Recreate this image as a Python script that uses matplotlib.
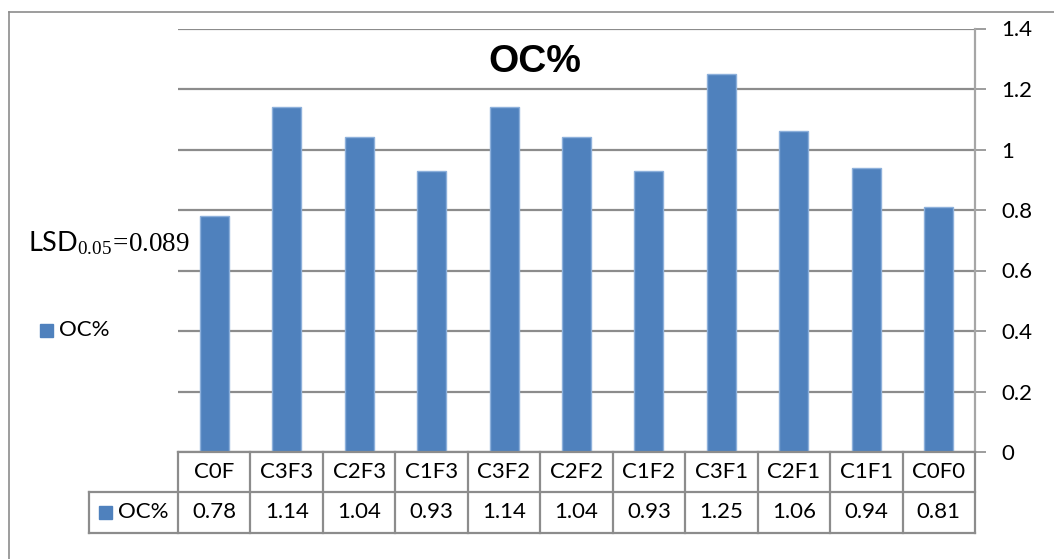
import matplotlib
matplotlib.use("Agg")
import matplotlib.pyplot as plt
from matplotlib.lines import Line2D
from matplotlib.patches import Rectangle

# OC% by treatment
categories = ["C0F", "C3F3", "C2F3", "C1F3", "C3F2", "C2F2", "C1F2", "C3F1", "C2F1", "C1F1", "C0F0"]
oc_values = [0.78, 1.14, 1.04, 0.93, 1.14, 1.04, 0.93, 1.25, 1.06, 0.94, 0.81]
y_ticks = [0, 0.2, 0.4, 0.6, 0.8, 1, 1.2, 1.4]
y_tick_labels = ["0", "0.2", "0.4", "0.6", "0.8", "1", "1.2", "1.4"]
series_name = "OC%"
lsd_note = r"LSD$_{0.05}\!=\!0.089$"

bar_color = "#4F81BD"
edge_color = "#8DB0DB"
grid_color = "#8C8C8C"
label_font = "Lato"

plt.rcParams["mathtext.fontset"] = "custom"
plt.rcParams["mathtext.rm"] = "Liberation Serif"
plt.rcParams["mathtext.it"] = "Liberation Serif"

W, H = 1054, 559
fig = plt.figure(figsize=(W / 100, H / 100), dpi=100)


def fx(px):
    return px / W


def fy(py):
    return 1 - py / H


# plot area in pixels
left, right, top, bottom = 178, 975, 28.5, 452
ax = fig.add_axes([fx(left), fy(bottom), fx(right) - fx(left), fy(top) - fy(bottom)])

x = list(range(len(categories)))
ax.bar(x, oc_values, width=0.4, color=bar_color, edgecolor=edge_color, linewidth=1, zorder=3)
ax.set_xlim(-0.5, len(categories) - 0.5)
ax.set_ylim(0, 1.4)
ax.set_yticks(y_ticks)
ax.set_yticklabels(y_tick_labels, fontsize=16, family=label_font)
ax.yaxis.tick_right()
ax.tick_params(axis="y", direction="out", length=8, width=1.2, color=grid_color, pad=11)
ax.set_xticks([])
ax.grid(axis="y", color=grid_color, linewidth=1.6, zorder=0)
for s in ["left", "top", "bottom"]:
    ax.spines[s].set_visible(False)
ax.spines["right"].set_color("#A6A6A6")
ax.spines["right"].set_linewidth(1.6)

# data table under the bars
col_w = (right - left) / len(categories)
row1, row2 = 492, 533
leg_left = 89
tbl_lines = [
    ((left, right), (bottom, bottom)),
    ((leg_left, right), (row1, row1)),
    ((leg_left, right), (row2, row2)),
    ((leg_left, leg_left), (row1, row2)),
]
for i in range(len(categories) + 1):
    xx = left + i * col_w
    tbl_lines.append(((xx, xx), (bottom, row2)))
for xs, ys in tbl_lines:
    fig.add_artist(Line2D([fx(xs[0]), fx(xs[1])], [fy(ys[0]), fy(ys[1])],
                          color=grid_color, linewidth=1.6))

for i, (cat, val) in enumerate(zip(categories, oc_values)):
    cx = left + (i + 0.5) * col_w
    fig.text(fx(cx), fy((bottom + row1) / 2), cat, ha="center", va="center",
             fontsize=16, family=label_font)
    fig.text(fx(cx), fy((row1 + row2) / 2), f"{val:.2f}", ha="center", va="center",
             fontsize=16, family=label_font)

fig.add_artist(Rectangle((fx(99), fy(519)), fx(13), 13 / H, color=bar_color))
fig.text(fx(118), fy((row1 + row2) / 2), series_name, ha="left", va="center",
         fontsize=16, family=label_font)

# legend and title
fig.add_artist(Rectangle((fx(40), fy(337)), fx(13), 13 / H, color=bar_color))
fig.text(fx(59), fy(330), series_name, ha="left", va="center", fontsize=16, family=label_font)
fig.text(fx(535), fy(62), series_name, ha="center", va="center", fontsize=28,
         fontweight="bold", family="Liberation Sans")
fig.text(fx(28), fy(251), lsd_note, ha="left", va="baseline", fontsize=19.5, family=label_font)

# chart border
fig.add_artist(Line2D([fx(9), fx(W)], [fy(12), fy(12)], color="#8C8C8C", linewidth=1.2))
fig.add_artist(Line2D([fx(9), fx(9)], [fy(12), 0], color="#8C8C8C", linewidth=1.2))

fig.savefig("out.png", dpi=100)
